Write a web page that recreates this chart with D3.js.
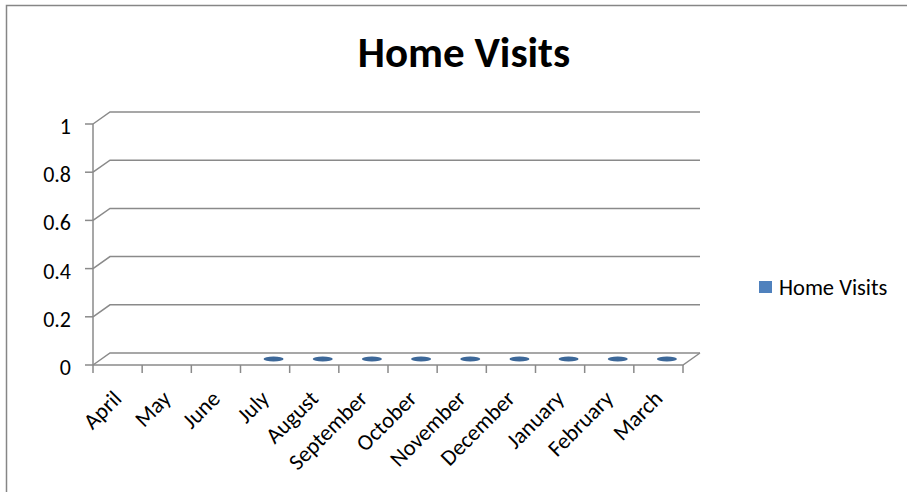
<!DOCTYPE html>
<html>
<head>
<meta charset="utf-8">
<script src="https://cdn.jsdelivr.net/npm/d3@7/dist/d3.min.js"></script>
<style>
  html, body { margin: 0; padding: 0; background: #fff; }
  svg { display: block; }
  text { font-family: Calibri, Carlito, Lato, sans-serif; fill: #000; }
</style>
</head>
<body>
<svg id="chart" width="907" height="492"></svg>
<script>
// Monthly home visits (April–March); first three months have no entries
const months = ["April", "May", "June", "July", "August", "September", "October",
                "November", "December", "January", "February", "March"];
const homeVisits = [null, null, null, 0, 0, 0, 0, 0, 0, 0, 0, 0];
const yTicks = [0, 0.2, 0.4, 0.6, 0.8, 1];
const seriesName = "Home Visits";
const chartTitle = "Home Visits";

const W = 907, H = 492;
const svg = d3.select("#chart");

// chart frame
svg.append("rect")
  .attr("x", 6.5).attr("y", 5.5)
  .attr("width", W + 20).attr("height", H + 20)
  .attr("fill", "#fff").attr("stroke", "#868686").attr("stroke-width", 1.5);

// plot geometry: front plane plus a shallow 3-D depth offset
const plotLeft = 93, plotRight = 683, plotBottom = 365, plotTop = 124;
const depthX = 17, depthY = -12;

const x = d3.scaleBand().domain(months).range([plotLeft, plotRight]).paddingInner(0).paddingOuter(0);
const y = d3.scaleLinear().domain([0, 1]).range([plotBottom, plotTop]);

const gridColor = "#8a8a8a";
const grid = svg.append("g").attr("fill", "none").attr("stroke", gridColor).attr("stroke-width", 1.5);

// back-wall gridlines, each joined to the front axis by a diagonal
grid.selectAll("path.grid")
  .data(yTicks)
  .join("path")
  .attr("class", "grid")
  .attr("d", t => {
    const yy = y(t);
    return `M${plotLeft},${yy} L${plotLeft + depthX},${yy + depthY} L${plotRight + depthX},${yy + depthY}`;
  });

// floor front edge and right side
grid.append("path")
  .attr("d", `M${plotLeft},${y(0)} L${plotRight},${y(0)} L${plotRight + depthX},${y(0) + depthY}`);

// value axis
const yAxis = svg.append("g");
yAxis.append("line")
  .attr("x1", plotLeft).attr("x2", plotLeft)
  .attr("y1", y(0)).attr("y2", y(1))
  .attr("stroke", gridColor).attr("stroke-width", 1.5);
yAxis.selectAll("line.tick")
  .data(yTicks)
  .join("line")
  .attr("class", "tick")
  .attr("x1", plotLeft - 8).attr("x2", plotLeft)
  .attr("y1", d => y(d)).attr("y2", d => y(d))
  .attr("stroke", gridColor).attr("stroke-width", 1.5);
yAxis.selectAll("text")
  .data(yTicks)
  .join("text")
  .attr("x", 71)
  .attr("y", d => y(d) + 2)
  .attr("dy", "0.36em")
  .attr("text-anchor", "end")
  .style("font-size", "22px")
  .text(d => d3.format("~g")(d));

// category axis ticks at band boundaries
const bounds = months.map(m => x(m)).concat([plotRight]);
svg.append("g").selectAll("line")
  .data(bounds)
  .join("line")
  .attr("x1", d => d).attr("x2", d => d)
  .attr("y1", y(0)).attr("y2", y(0) + 8)
  .attr("stroke", gridColor).attr("stroke-width", 1.5);

// rotated month labels: baseline ends just right of each band centre
svg.append("g").selectAll("text")
  .data(months)
  .join("text")
  .attr("transform", m => `translate(${x(m) + x.bandwidth() / 2 + 5.4},${400}) rotate(-45)`)
  .attr("text-anchor", "end")
  .style("font-size", "22.5px")
  .text(m => m);

// columns: cylinders drawn mid-depth; a zero value leaves only the top ellipse
const rx = 10, ry = 2.6;
const cols = svg.append("g").selectAll("g")
  .data(months.map((m, i) => ({ m, v: homeVisits[i] })).filter(d => d.v !== null))
  .join("g")
  .attr("transform", d => `translate(${x(d.m) + x.bandwidth() / 2 + depthX / 2},${depthY / 2})`);
cols.append("rect")
  .attr("x", -rx).attr("width", 2 * rx)
  .attr("y", d => y(d.v)).attr("height", d => y(0) - y(d.v))
  .attr("fill", "#4f81bd");
cols.append("ellipse")
  .attr("cx", 0).attr("cy", d => y(d.v))
  .attr("rx", rx).attr("ry", ry)
  .attr("fill", "#3d6899");

// legend
const legend = svg.append("g").attr("transform", "translate(759,281)");
legend.append("rect").attr("width", 13).attr("height", 12).attr("fill", "#4f81bd");
legend.append("text")
  .attr("x", 20).attr("y", 6).attr("dy", "0.36em")
  .style("font-size", "22.5px")
  .text(seriesName);

// title
svg.append("text")
  .attr("x", 464).attr("y", 67)
  .attr("text-anchor", "middle")
  .style("font-size", "43px").style("font-weight", "bold")
  .text(chartTitle);
</script>
</body>
</html>
